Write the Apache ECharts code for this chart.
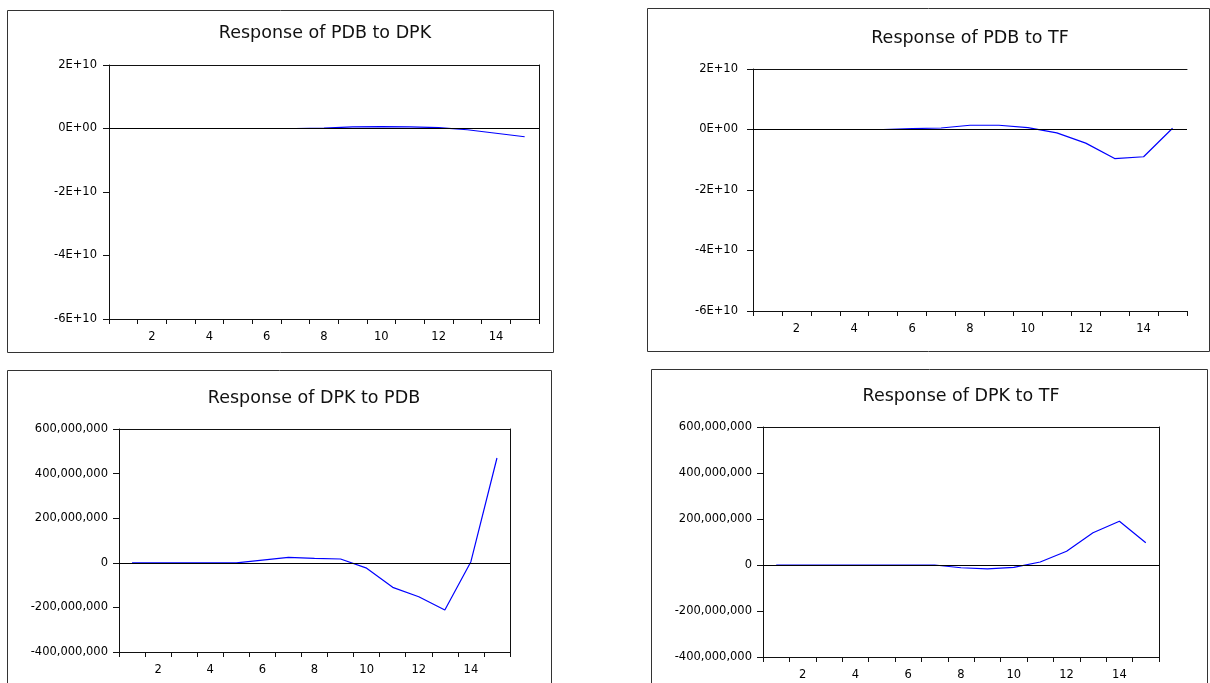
<!DOCTYPE html>
<html>
<head>
<meta charset="utf-8">
<script src="https://cdn.jsdelivr.net/npm/echarts@6/dist/echarts.min.js"></script>
<style>
html,body{margin:0;padding:0;background:#fff;}
#c{width:1210px;height:683px;}
</style>
</head>
<body>
<div id="c"></div>
<script>
// ---- data ----
const periods = ['1','2','3','4','5','6','7','8','9','10','11','12','13','14','15'];
const titles = ['Response of PDB to DPK','Response of PDB to TF','Response of DPK to PDB','Response of DPK to TF'];
const pdbToDpk = [0,0,0,0,0,0,0,0.1e9,0.5e9,0.6e9,0.5e9,0.3e9,-0.4e9,-1.5e9,-2.6e9];
const pdbToTf  = [0,0,0,0,0,0.3e9,0.5e9,1.4e9,1.4e9,0.6e9,-1.1e9,-4.5e9,-9.6e9,-9.0e9,0.4e9];
const dpkToPdb = [0,0,0,0,0,12e6,24e6,20e6,17e6,-24e6,-110e6,-152e6,-212e6,5e6,470e6];
const dpkToTf  = [0,0,0,0,0,0,0,-12e6,-17e6,-10e6,13e6,60e6,140e6,190e6,97e6];
const pdbTicks = {min:-6e10, max:2e10, interval:2e10};
const dpkTicks = {min:-400e6, max:600e6, interval:200e6};

// ---- layout ----
const FONT = "'DejaVu Sans', 'Liberation Sans', Arial, sans-serif";
const panels = [
  {grid:{left:109, top:65, width:430, height:254}, title:{x:325, y:33}, frame:[7,10,546,342], data:pdbToDpk, ticks:pdbTicks, fmt:'sci', right:true, ym:12},
  {grid:{left:753, top:69, width:434, height:242}, title:{x:970, y:38}, frame:[647,8,562,343], data:pdbToTf, ticks:pdbTicks, fmt:'sci', right:false, ym:15},
  {grid:{left:119, top:429, width:391, height:223}, title:{x:314, y:398}, frame:[7,370,544,330], data:dpkToPdb, ticks:dpkTicks, fmt:'comma', right:true, ym:11},
  {grid:{left:763, top:427, width:396, height:230}, title:{x:961, y:396}, frame:[651,369,556,330], data:dpkToTf, ticks:dpkTicks, fmt:'comma', right:true, ym:11}
];

function sci(v){
  if (v === 0) return '0E+00';
  return Math.round(v/1e10) + 'E+10';
}
function comma(v){
  return Math.round(v).toLocaleString('en-US');
}

const option = {
  animation:false,
  backgroundColor:'#fff',
  textStyle:{fontFamily:FONT},
  title:[], grid:[], xAxis:[], yAxis:[], series:[], graphic:[]
};

panels.forEach((p,i)=>{
  option.grid.push(Object.assign({containLabel:false}, p.grid));
  option.title.push({
    text:titles[i], left:p.title.x, top:p.title.y-9, textAlign:'center', padding:0,
    textStyle:{fontFamily:FONT, fontSize:17.5, fontWeight:'normal', color:'#111'}
  });
  // bottom x axis
  option.xAxis.push({
    type:'category', data:periods, gridIndex:i, boundaryGap:true, position:'bottom',
    axisLine:{show:true, onZero:false, lineStyle:{color:'#111', width:1}},
    axisTick:{show:true, inside:false, length:5, interval:0, lineStyle:{color:'#111', width:1}},
    axisLabel:{show:true, interval:(idx)=> idx % 2 === 1, fontSize:11.5, margin:12, color:'#000', fontFamily:FONT},
    splitLine:{show:false}
  });
  // top border axis
  option.xAxis.push({
    type:'category', data:periods, gridIndex:i, boundaryGap:true, position:'top',
    axisLine:{show:true, onZero:false, lineStyle:{color:'#111', width:1}},
    axisTick:{show:false}, axisLabel:{show:false}, splitLine:{show:false}
  });
  // left y axis
  option.yAxis.push({
    type:'value', gridIndex:i, position:'left',
    min:p.ticks.min, max:p.ticks.max, interval:p.ticks.interval,
    axisLine:{show:true, onZero:false, lineStyle:{color:'#111', width:1}},
    axisTick:{show:true, inside:false, length:6, lineStyle:{color:'#111', width:1}},
    axisLabel:{show:true, fontSize:11.5, margin:p.ym, color:'#000', fontFamily:FONT,
      formatter: p.fmt === 'sci' ? sci : comma},
    splitLine:{show:false}
  });
  // right border axis
  option.yAxis.push({
    type:'value', gridIndex:i, position:'right',
    min:p.ticks.min, max:p.ticks.max, interval:p.ticks.interval,
    axisLine:{show:p.right, onZero:false, lineStyle:{color:'#111', width:1}},
    axisTick:{show:false}, axisLabel:{show:false}, splitLine:{show:false}
  });
  // zero line (drawn below the response line)
  option.series.push({
    type:'line', xAxisIndex:2*i, yAxisIndex:2*i, data:[], z:1, silent:true,
    markLine:{silent:true, symbol:['none','none'], label:{show:false},
      lineStyle:{color:'#000', width:1, type:'solid'}, data:[{yAxis:0}], animation:false}
  });
  // response line
  option.series.push({
    type:'line', xAxisIndex:2*i, yAxisIndex:2*i, data:p.data, z:3,
    symbol:'none', showSymbol:false,
    lineStyle:{color:'#0000ff', width:1.2}
  });
  // panel frame
  option.graphic.push({
    type:'rect', silent:true, z:-1,
    shape:{x:p.frame[0]+0.5, y:p.frame[1]+0.5, width:p.frame[2], height:p.frame[3]},
    style:{fill:'none', stroke:'#333', lineWidth:1}
  });
});

const chart = echarts.init(document.getElementById('c'), null, {renderer:'canvas'});
chart.setOption(option);
</script>
</body>
</html>
